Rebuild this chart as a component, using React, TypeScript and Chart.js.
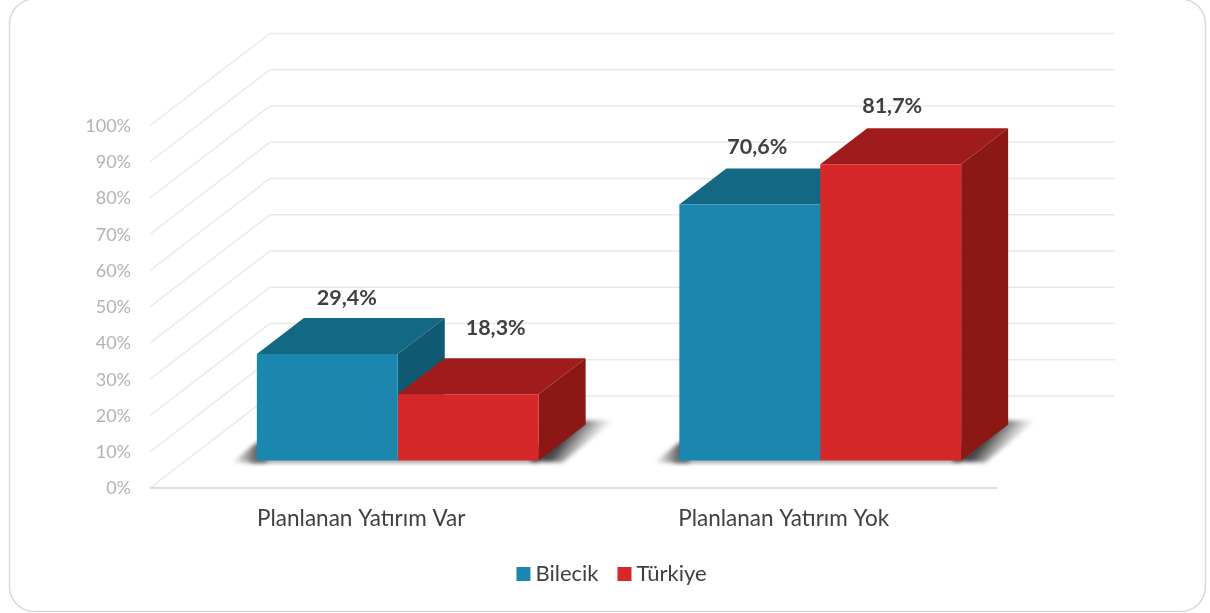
import React, { useEffect, useRef } from "react";
import { Chart, registerables } from "chart.js";

Chart.register(...registerables);

const categories = ["Planlanan Yatırım Var", "Planlanan Yatırım Yok"];
const bilecik = [29.4, 70.6];
const turkiye = [18.3, 81.7];
const seriesNames = ["Bilecik", "Türkiye"];

const FRONT = ["#1b87ae", "#d62828"];
const TOP = ["#136884", "#a01c1c"];
const SIDE = ["#0f5a72", "#8b1815"];

// Projection of the fake 3D box
const WALL_DX = 120;
const WALL_DY = -92;
const BAR_DX = 36.5;
const BAR_DY = -27.5;
const DEPTH_DX = 47;
const DEPTH_DY = -36;
// Manual placement of the value labels relative to the back top-centre of each bar
const labelNudge = [
  [[-27.5, -20], [-19.5, -30]],
  [[-39.5, -22], [-45.5, -22]],
];

function poly(ctx: CanvasRenderingContext2D, pts: number[][], fill: any) {
  ctx.beginPath();
  pts.forEach((p, i) => (i ? ctx.lineTo(p[0], p[1]) : ctx.moveTo(p[0], p[1])));
  ctx.closePath();
  ctx.fillStyle = fill;
  ctx.fill();
}

function barRect(chart: any, d: number, i: number) {
  const el = chart.getDatasetMeta(d).data[i];
  const half = el.width / 2;
  return {
    l: el.x - half + BAR_DX,
    r: el.x + half + BAR_DX,
    t: el.y + BAR_DY,
    b: el.base + BAR_DY,
  };
}

const scene = {
  id: "scene",
  afterLayout(chart: any) {
    const lg = chart.legend;
    lg.left = 0;
    lg.right = 1229;
    lg.top = 538;
    lg.bottom = 609;
  },
  beforeDraw(chart: any) {
    const { ctx, scales } = chart;
    ctx.save();
    ctx.fillStyle = "#ffffff";
    ctx.fillRect(0, 0, chart.width, chart.height);
    ctx.beginPath();
    ctx.roundRect(9.5, -1, 1196, 612.5, 25);
    ctx.strokeStyle = "#d9d9d9";
    ctx.lineWidth = 1.5;
    ctx.stroke();
    ctx.restore();
    const left = chart.chartArea.left;
    const right = chart.chartArea.right;
    ctx.save();
    ctx.strokeStyle = "#e9e9e9";
    ctx.lineWidth = 1.5;
    scales.y.ticks.forEach((t: any) => {
      const y = scales.y.getPixelForValue(t.value);
      ctx.beginPath();
      ctx.moveTo(left, y);
      ctx.lineTo(left + WALL_DX, y + WALL_DY);
      ctx.lineTo(right + WALL_DX, y + WALL_DY);
      ctx.stroke();
    });
    const y0 = scales.y.getPixelForValue(0);
    ctx.strokeStyle = "#dcdcdc";
    ctx.lineWidth = 2;
    ctx.beginPath();
    ctx.moveTo(left, y0);
    ctx.lineTo(right + 2, y0);
    ctx.stroke();
    ctx.restore();
  },
  beforeDatasetsDraw(chart: any) {
    const { ctx } = chart;
    categories.forEach((_, i) => {
      const a = barRect(chart, 0, i);
      const z = barRect(chart, 1, i);
      ctx.save();
      (ctx as any).filter = "blur(2px)";
      // cast shadow on the floor, left
      const gl = ctx.createLinearGradient(a.l - 25, 0, a.l, 0);
      gl.addColorStop(0, "rgba(90,90,90,0)");
      gl.addColorStop(1, "rgba(80,80,80,0.9)");
      poly(ctx, [[a.l - 25, a.b + 2], [a.l, a.b - 18], [a.l + 10, a.b - 18], [a.l + 10, a.b + 2]], gl);
      // thin contact shadow below the front
      poly(ctx, [[a.l - 6, a.b - 2], [z.r, a.b - 2], [z.r, a.b + 2], [a.l - 6, a.b + 2]], "rgba(110,110,110,0.8)");
      // cast shadow on the floor, right
      const mx = z.r + DEPTH_DX / 2;
      const my = z.b + DEPTH_DY / 2;
      const gr = ctx.createLinearGradient(mx, my, mx + 22, my + 17);
      gr.addColorStop(0, "rgba(60,60,60,0.95)");
      gr.addColorStop(1, "rgba(130,130,130,0)");
      poly(ctx, [[z.r - 8, z.b + 1], [z.r - 8, z.b - 10], [z.r + DEPTH_DX - 8, z.b + DEPTH_DY - 4], [z.r + DEPTH_DX + 28, z.b + DEPTH_DY - 4], [z.r + 24, z.b + 2]], gr);
      ctx.restore();

      [0, 1].forEach((d) => {
        const r = barRect(chart, d, i);
        poly(ctx, [[r.l, r.t], [r.r, r.t], [r.r + DEPTH_DX, r.t + DEPTH_DY], [r.l + DEPTH_DX, r.t + DEPTH_DY]], TOP[d]);
        poly(ctx, [[r.r, r.t], [r.r + DEPTH_DX, r.t + DEPTH_DY], [r.r + DEPTH_DX, r.b + DEPTH_DY], [r.r, r.b]], SIDE[d]);
      });
    });
    ctx.save();
    ctx.translate(BAR_DX, BAR_DY);
  },
  afterDatasetsDraw(chart: any) {
    const { ctx, data } = chart;
    ctx.restore();
    ctx.save();
    ctx.font = "bold 21.5px Lato";
    ctx.fillStyle = "#404040";
    ctx.textAlign = "center";
    ctx.textBaseline = "middle";
    data.datasets.forEach((ds: any, d: number) => {
      ds.data.forEach((v: number, i: number) => {
        const r = barRect(chart, d, i);
        const n = labelNudge[i][d];
        const cx = (r.l + r.r) / 2 + DEPTH_DX + n[0];
        const cy = r.t + DEPTH_DY + n[1];
        ctx.fillText(v.toFixed(1).replace(".", ",") + "%", cx, cy);
      });
    });
    ctx.restore();
  },
};

export default function App() {
  const ref = useRef<HTMLCanvasElement>(null);
  useEffect(() => {
    const chart = new Chart(ref.current as HTMLCanvasElement, {
      type: "bar",
      data: {
        labels: categories,
        datasets: [
          { label: seriesNames[0], data: bilecik, backgroundColor: FRONT[0], clip: false as any, categoryPercentage: 0.667, barPercentage: 1 },
          { label: seriesNames[1], data: turkiye, backgroundColor: FRONT[1], clip: false as any, categoryPercentage: 0.667, barPercentage: 1 },
        ],
      },
      options: {
        animation: false,
        responsive: false,
        layout: { padding: { top: 125.5, right: 215, left: 0, bottom: 0 } },
        plugins: {
          tooltip: { enabled: false },
          legend: {
            position: "bottom",
            labels: {
              boxWidth: 2,
              boxHeight: 2,
              padding: 25,
              color: "#404040",
              font: { family: "Lato", size: 22 },
              generateLabels: (c: any) =>
                c.data.datasets.map((ds: any, i: number) => ({
                  text: ds.label,
                  fillStyle: FRONT[i],
                  strokeStyle: FRONT[i],
                  lineWidth: 12,
                  fontColor: "#404040",
                  datasetIndex: i,
                  hidden: false,
                })),
            },
          },
        },
        scales: {
          x: {
            grid: { display: false, drawTicks: false },
            border: { display: false },
            ticks: { color: "#404040", padding: 17.5, font: { family: "Lato", size: 22.5 }, maxRotation: 0 },
            afterFit: (s: any) => {
              s.height = 68;
            },
          },
          y: {
            min: 0,
            max: 100,
            grid: { display: false, drawTicks: false },
            border: { display: false },
            ticks: {
              stepSize: 10,
              color: "#b5b2b2",
              padding: 19,
              labelOffset: 0.5,
              font: { family: "Lato", size: 18 },
              callback: (v: any) => v + "%",
            },
            afterFit: (s: any) => {
              s.width = 150;
            },
          },
        },
      },
      plugins: [scene],
    } as any);
    return () => chart.destroy();
  }, []);
  return (
    <div style={{ position: "absolute", left: 0, top: 0, width: 1210, height: 613 }}>
      <canvas ref={ref} width={1210} height={613} style={{ display: "block" }} />
    </div>
  );
}
